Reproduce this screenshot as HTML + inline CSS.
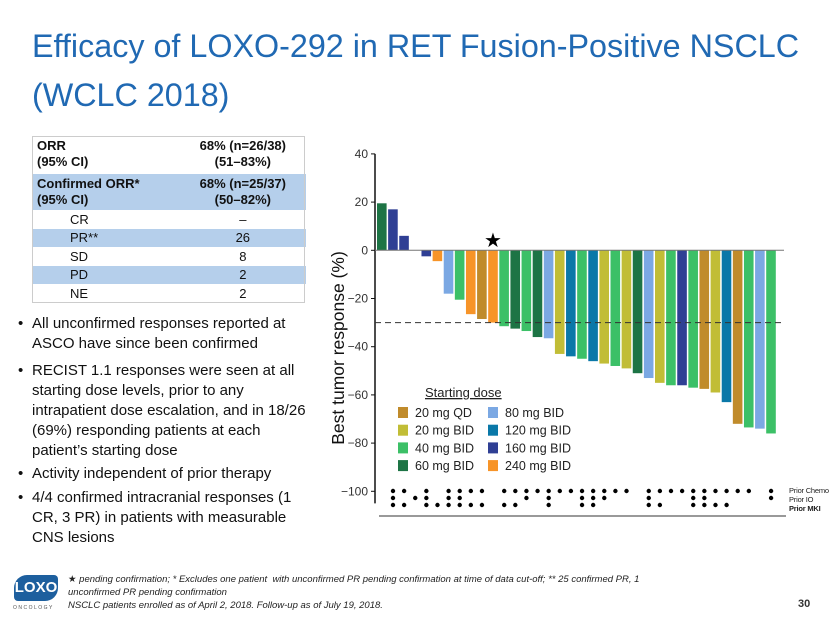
<!DOCTYPE html>
<html><head><meta charset="utf-8">
<style>
body{margin:0;width:830px;height:623px;background:#fff;position:relative;overflow:hidden;font-family:"Liberation Sans","DejaVu Sans",sans-serif;}
.title{position:absolute;left:32px;top:22px;font-size:32.3px;line-height:49px;color:#2069b3;letter-spacing:0px;}
table{position:absolute;left:32px;top:136px;width:274px;border-collapse:collapse;font-size:13px;color:#111;}
td{padding:0 5px;border-bottom:1px solid #fff;}
tr.b td{background:#b5cfeb;}
.bul{position:absolute;left:18px;font-size:15px;line-height:20px;color:#111;padding-left:14px;width:320px}
.bul:before{content:"•";position:absolute;left:0;}
.foot{position:absolute;left:68px;top:573px;font-size:9.5px;line-height:13px;font-style:italic;color:#222;}
</style></head><body>
<div class="title">Efficacy of LOXO-292 in RET Fusion-Positive NSCLC<br>(WCLC 2018)</div>

<table>
<tr style="height:37px"><td style="font-weight:bold;line-height:16px">ORR<br>(95% CI)</td><td style="font-weight:bold;text-align:center;line-height:16px">68% (n=26/38)<br>(51–83%)</td></tr>
<tr class="b" style="height:37px"><td style="font-weight:bold;line-height:16px">Confirmed ORR*<br>(95% CI)</td><td style="font-weight:bold;text-align:center;line-height:16px">68% (n=25/37)<br>(50–82%)</td></tr>
<tr style="height:18px"><td style="padding-left:38px">CR</td><td style="text-align:center">–</td></tr>
<tr class="b" style="height:19px"><td style="padding-left:38px">PR**</td><td style="text-align:center">26</td></tr>
<tr style="height:18px"><td style="padding-left:38px">SD</td><td style="text-align:center">8</td></tr>
<tr class="b" style="height:19px"><td style="padding-left:38px">PD</td><td style="text-align:center">2</td></tr>
<tr style="height:19px"><td style="padding-left:38px">NE</td><td style="text-align:center">2</td></tr>
</table>
<div style="position:absolute;left:32px;top:136px;width:273px;height:167px;border:1px solid #ccc;box-sizing:border-box"></div>

<div class="bul" style="top:314px">All unconfirmed responses reported at<br>ASCO have since been confirmed</div>
<div class="bul" style="top:361px">RECIST 1.1 responses were seen at all<br>starting dose levels, prior to any<br>intrapatient dose escalation, and in 18/26<br>(69%) responding patients at each<br>patient’s starting dose</div>
<div class="bul" style="top:464px">Activity independent of prior therapy</div>
<div class="bul" style="top:488px">4/4 confirmed intracranial responses (1<br>CR, 3 PR) in patients with measurable<br>CNS lesions</div>

<svg id="chart" width="830" height="623" style="position:absolute;left:0;top:0" xmlns="http://www.w3.org/2000/svg"></svg>

<div style="position:absolute;left:14px;top:575px;width:44px;height:26px;background:#1d5f9e;border-radius:13px 4px 13px 4px;color:#fff;font-weight:bold;font-size:15px;text-align:center;line-height:26px">LOXO</div>
<div style="position:absolute;left:13px;top:605px;font-size:5px;letter-spacing:1.5px;color:#555">ONCOLOGY</div>
<div class="foot">★ pending confirmation; * Excludes one patient&nbsp; with unconfirmed PR pending confirmation at time of data cut-off; ** 25 confirmed PR, 1<br>unconfirmed PR pending confirmation<br>NSCLC patients enrolled as of April 2, 2018. Follow-up as of July 19, 2018.</div>
<div style="position:absolute;left:798px;top:598px;font-size:11px;font-weight:bold;color:#333">30</div>

<script>
const values=[19.5,17,6,null,-2.5,-4.5,-18,-20.5,-26.5,-28.5,-30,-31.5,-32.5,-33.5,-36,-36.5,-43,-44,-45,-46,-47,-48,-49,-51,-53,-55,-56,-56,-57,-57.5,-59,-63,-72,-73.5,-74,-76];
const doses=["60","160","160",null,"160","240","80","40","240","20QD","240","40","60","40","60","80","20BID","120","40","120","20BID","40","20BID","60","80","20BID","40","160","40","20QD","20BID","120","20QD","40","80","40"];
const yTicks=[40,20,0,-20,-40,-60,-80,-100];
const doseKeys=["20QD","20BID","40","60","80","120","160","240"];
const doseLabels=["20 mg QD","20 mg BID","40 mg BID","60 mg BID","80 mg BID","120 mg BID","160 mg BID","240 mg BID"];
const priorChemo=[1,1,0,1,0,1,1,1,1,0,1,1,1,1,1,1,1,1,1,1,1,1,0,1,1,1,1,1,1,1,1,1,1,0,1];
const priorIO   =[1,0,1,1,0,1,1,0,0,0,0,0,1,0,1,0,0,1,1,1,0,0,0,1,0,0,0,1,1,0,0,0,0,0,1];
const priorMKI  =[1,1,0,1,1,1,1,1,1,0,1,1,0,0,1,0,0,1,1,0,0,0,0,1,1,0,0,1,1,1,1,0,0,0,0];
const colors={"20QD":"#c08b2b","20BID":"#c1bd36","40":"#3cc067","60":"#1d7445","80":"#7ba8e3","120":"#0a78a8","160":"#2f3f94","240":"#f79428"};
const svg=document.getElementById('chart');const NS="http://www.w3.org/2000/svg";
function y(v){return 250.3-(v)*2.41;}
function xs(i){return 377+i*11.12;}
function xd(i){return 393+i*11.12;}
function mk(t,a,p){const e=document.createElementNS(NS,t);for(const k in a)e.setAttribute(k,a[k]);(p||svg).appendChild(e);return e;}
let e;
e=mk('line',{x1:375,y1:y(40),x2:375,y2:y(-105),stroke:'#111','stroke-width':1.5});


yTicks.forEach(t=>{
 e=mk('line',{x1:371,x2:375,y1:y(t),y2:y(t),stroke:'#111'});
 
 
 e=mk('text',{x:368,y:y(t)+4,'text-anchor':'end','font-size':12,fill:'#333','font-family':'Liberation Sans,sans-serif'});
 e.textContent=(t<0?'−':'')+Math.abs(t);
 
 
});
e=mk('text',{x:0,y:0,transform:'translate(344,348) rotate(-90)','text-anchor':'middle','font-size':17.5,fill:'#111','font-family':'Liberation Sans,sans-serif'});
e.textContent='Best tumor response (%)';


values.forEach((v,i)=>{
 if(v===null)return;
 const top=Math.min(y(v),y(0)),h=Math.abs(y(v)-y(0));
 e=mk('rect',{x:xs(i),y:top,width:9.6,height:h,fill:colors[doses[i]]});
 
 
});
e=mk('line',{x1:375,x2:784,y1:y(0),y2:y(0),stroke:'#777','stroke-width':1});


e=mk('line',{x1:375,x2:784,y1:y(-30),y2:y(-30),stroke:'#333','stroke-dasharray':'6,4'});


e=mk('text',{x:xs(10)+4.8,y:247,'text-anchor':'middle','font-size':20,fill:'#000'});
e.textContent='★';


e=mk('text',{x:425,y:397,'font-size':13,fill:'#222','text-decoration':'underline','font-family':'Liberation Sans,sans-serif'});
e.textContent='Starting dose';


doseKeys.forEach((k,j)=>{
 const col=Math.floor(j/4),row=j%4;
 const lx=398+col*90,ly=407+row*17.7;
 e=mk('rect',{x:lx,y:ly,width:10,height:11,fill:colors[k]});
 
 
 e=mk('text',{x:lx+17,y:ly+10,'font-size':12.5,fill:'#222','font-family':'Liberation Sans,sans-serif'});
 e.textContent=doseLabels[j];
 
 
});
[priorChemo,priorIO,priorMKI].forEach((arr,r)=>{
 arr.forEach((d,i)=>{
  if(!d)return;
  e=mk('circle',{cx:xd(i),cy:491+r*7,r:2.2,fill:'#000'});
  
  
 });
});
['Prior Chemo','Prior IO','Prior MKI'].forEach((t,r)=>{
 e=mk('text',{x:789,y:493+r*9,'font-size':7.5,'letter-spacing':-0.2,fill:'#222','font-weight':r==2?'bold':'normal','font-family':'Liberation Sans,sans-serif'});
 e.textContent=t;
 
 
});
e=mk('line',{x1:379,x2:786,y1:516,y2:516,stroke:'#999','stroke-width':2});


</script>
</body></html>
